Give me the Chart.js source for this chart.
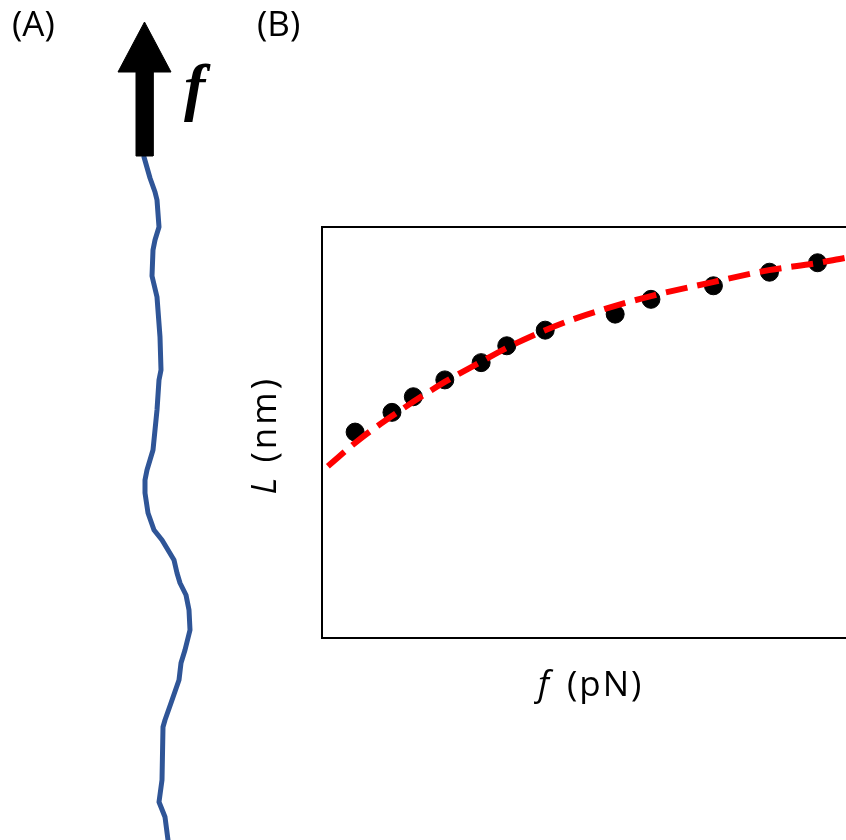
<!DOCTYPE html>
<html>
<head>
<meta charset="utf-8">
<script src="https://cdn.jsdelivr.net/npm/chart.js@4.4.1/dist/chart.umd.min.js"></script>
<style>
    html, body { margin: 0; padding: 0; background: #fff; overflow: hidden; }
    #wrap { position: relative; width: 846px; height: 840px; overflow: hidden; }
    #chain-chart { position: absolute; left: 0; top: 0; }
    #force-chart { position: absolute; left: 0; top: 0; }
</style>
</head>
<body>
<div id="wrap">
    <canvas id="force-chart" width="900" height="840"></canvas>
    <canvas id="chain-chart" width="250" height="840"></canvas>
</div>
<script>
// panel (A): polymer chain contour and pulling arrow (same units as the panel)
const chainX = [144, 150, 155, 157, 159, 155, 153, 152, 157, 160, 161, 159, 157, 153, 150, 147, 145, 145, 148, 154, 162, 174, 177, 180, 186, 189, 190, 185, 181, 179, 171, 165, 163, 162, 159, 165, 168];
const chainY = [157, 178, 192, 200, 227, 240, 250, 276, 297, 337, 370, 380, 410, 450, 460, 470, 480, 493, 513, 530, 540, 560, 573, 583, 595, 610, 630, 650, 663, 680, 703, 720, 727, 780, 802, 817, 840];
const arrowX = [136, 136, 118, 144.5, 171, 153, 153, 136];
const arrowY = [156, 72, 72, 22, 72, 72, 156, 156];

// panel (B): extension vs force (arbitrary units)
const forceValues = [0.62, 1.31, 1.71, 2.30, 2.98, 3.46, 4.18, 5.49, 6.16, 7.33, 8.38, 9.28];
const lengthValues = [5.01, 5.49, 5.87, 6.28, 6.70, 7.11, 7.49, 7.88, 8.24, 8.57, 8.90, 9.13];
const fitForce = [0.11, 0.71, 1.31, 2.30, 2.98, 3.46, 4.18, 4.78, 5.49, 6.16, 7.32, 8.37, 9.27, 9.81, 10.0];
const fitLength = [4.18, 4.84, 5.40, 6.23, 6.72, 7.06, 7.49, 7.79, 8.08, 8.32, 8.66, 8.95, 9.12, 9.25, 9.29];

const FONT = '"Open Sans", "Noto Sans", sans-serif';

function toPoints(xs, ys) {
    return xs.map((x, i) => ({x: x, y: ys[i]}));
}

const chainLabels = {
    id: 'chainLabels',
    afterDraw(chart) {
        const ctx = chart.ctx;
        ctx.save();
        ctx.fillStyle = '#000';
        ctx.textBaseline = 'alphabetic';
        ctx.font = '35px ' + FONT;
        ctx.fillText('(A)', 12, 36);
        ctx.font = 'italic bold 64px "Liberation Serif", "DejaVu Serif", serif';
        ctx.fillText('f', 184, 108);
        ctx.restore();
    }
};

const plotFrame = {
    id: 'plotFrame',
    beforeDatasetsDraw(chart) {
        const {ctx, chartArea} = chart;
        ctx.save();
        ctx.strokeStyle = '#000';
        ctx.lineWidth = 2;
        ctx.strokeRect(chartArea.left, chartArea.top, chartArea.right - chartArea.left, chartArea.bottom - chartArea.top);
        ctx.restore();
    },
    afterDraw(chart) {
        const {ctx, chartArea} = chart;
        const cx = (chartArea.left + chartArea.right) / 2;
        const cy = (chartArea.top + chartArea.bottom) / 2;
        ctx.save();
        ctx.fillStyle = '#000';
        ctx.textBaseline = 'alphabetic';
        ctx.font = '35px ' + FONT;
        ctx.fillText('(B)', 257, 36);

        // x title: f (pN)
        ctx.letterSpacing = '2px';
        ctx.font = 'italic 35px ' + FONT;
        ctx.fillText('f', cx - 51, 696);
        ctx.font = '35px ' + FONT;
        ctx.fillText('(pN)', cx - 22, 696);

        // y title: L (nm)
        ctx.translate(276, cy);
        ctx.rotate(-Math.PI / 2);
        ctx.letterSpacing = '3px';
        ctx.font = 'italic 35px ' + FONT;
        ctx.fillText('L', -62, 0);
        ctx.font = '35px ' + FONT;
        ctx.fillText('(nm)', -30, 0);
        ctx.restore();
    }
};

function drawChainChart() {
    const canvas = document.getElementById('chain-chart');
    new Chart(canvas, {
        type: 'scatter',
        data: {
            datasets: [
                {
                    data: toPoints(arrowX, arrowY),
                    showLine: true,
                    fill: 'shape',
                    backgroundColor: '#000',
                    borderColor: '#000',
                    borderWidth: 1,
                    pointRadius: 0,
                    tension: 0
                },
                {
                    data: toPoints(chainX, chainY),
                    showLine: true,
                    borderColor: '#2F5597',
                    borderWidth: 5,
                    borderJoinStyle: 'round',
                    borderCapStyle: 'round',
                    pointRadius: 0,
                    tension: 0
                }
            ]
        },
        options: {
            responsive: false,
            devicePixelRatio: 1,
            animation: false,
            layout: {padding: 0},
            scales: {
                x: {type: 'linear', min: 0, max: 250, display: false},
                y: {type: 'linear', min: 0, max: 840, reverse: true, display: false}
            },
            plugins: {
                legend: {display: false},
                tooltip: {enabled: false}
            }
        },
        plugins: [chainLabels]
    });
}

function drawForceChart() {
    const canvas = document.getElementById('force-chart');
    new Chart(canvas, {
        type: 'scatter',
        data: {
            datasets: [
                {
                    data: toPoints(fitForce, fitLength),
                    showLine: true,
                    borderColor: '#FF0000',
                    borderWidth: 6,
                    borderDash: [22, 10],
                    pointRadius: 0,
                    cubicInterpolationMode: 'monotone',
                    order: 0
                },
                {
                    data: toPoints(forceValues, lengthValues),
                    backgroundColor: '#000',
                    borderColor: '#000',
                    pointRadius: 9,
                    order: 1
                }
            ]
        },
        options: {
            responsive: false,
            devicePixelRatio: 1,
            animation: false,
            layout: {
                padding: {left: 322, top: 227, right: 44, bottom: 202}
            },
            scales: {
                x: {type: 'linear', min: 0, max: 10, display: false},
                y: {type: 'linear', min: 0, max: 10, display: false}
            },
            plugins: {
                legend: {display: false},
                tooltip: {enabled: false}
            }
        },
        plugins: [plotFrame]
    });
}

drawForceChart();
drawChainChart();
</script>
</body>
</html>
